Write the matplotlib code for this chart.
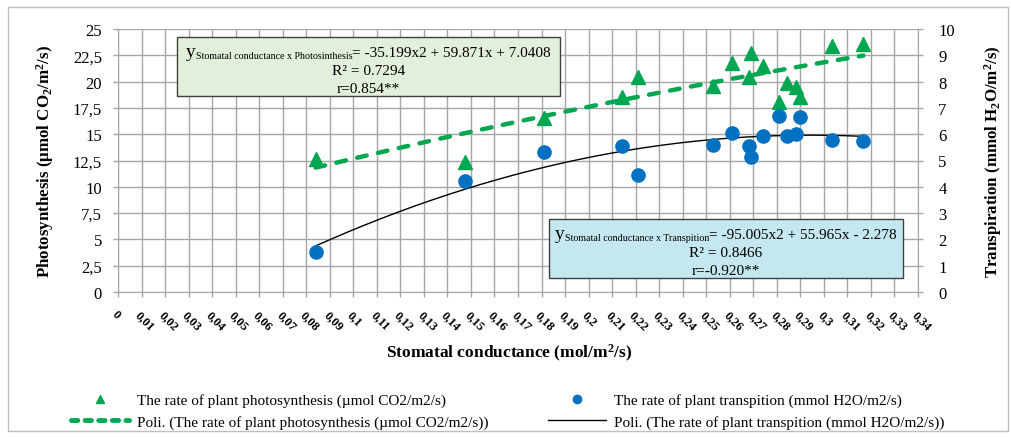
import matplotlib
matplotlib.use('Agg')
import matplotlib.pyplot as plt
from matplotlib.patches import Rectangle
from matplotlib.lines import Line2D
import numpy as np

plt.rcParams['font.family'] = ['Liberation Serif', 'DejaVu Serif']
plt.rcParams['mathtext.fontset'] = 'custom'
plt.rcParams['mathtext.rm'] = 'Liberation Serif'
plt.rcParams['mathtext.it'] = 'Liberation Serif:italic'
plt.rcParams['mathtext.bf'] = 'Liberation Serif:bold'

# stomatal conductance (mol/m2/s)
conductance = [0.084, 0.1475, 0.181, 0.214, 0.221, 0.253, 0.261, 0.268,
               0.269, 0.274, 0.281, 0.2845, 0.288, 0.290, 0.3036, 0.3168]
# photosynthesis (umol CO2/m2/s)
photosynthesis = [12.6, 12.4, 16.5, 18.5, 20.4, 19.6, 21.8, 20.4,
                  22.7, 21.5, 18.1, 19.9, 19.5, 18.5, 23.4, 23.6]
# transpiration (mmol H2O/m2/s)
transpiration = [1.51, 4.23, 5.31, 5.54, 4.45, 5.59, 6.05, 5.54,
                 5.15, 5.94, 6.70, 5.94, 6.01, 6.64, 5.79, 5.75]

# trend line coefficients given on the chart
coef_photo = [-35.199, 59.871, 7.0408]
coef_transp = [-95.005, 55.965, -2.278]

x_ticks = [round(i * 0.01, 2) for i in range(35)]
x_tick_labels = [('%g' % v).replace('.', ',') for v in x_ticks]
y1_ticks = [i * 2.5 for i in range(11)]
y1_tick_labels = [('%g' % v).replace('.', ',') for v in y1_ticks]
y2_ticks = list(range(11))

green = '#00A650'
blue = '#0070C0'
grid_c = '#a6a6a6'

W, H = 1012, 439
fig = plt.figure(figsize=(W / 100, H / 100), dpi=100)
ax = fig.add_axes([118 / W, 1 - 293 / H, 800 / W, 263 / H])
ax2 = ax.twinx()

ax.set_xlim(0, 0.34)
ax.set_ylim(0, 25)
ax2.set_ylim(0, 10)

ax.set_xticks(x_ticks)
ax.set_xticklabels(x_tick_labels, rotation=-45, ha='left', va='top',
                   rotation_mode='anchor', fontweight='bold', fontsize=9)
ax.set_yticks(y1_ticks)
ax.set_yticklabels(y1_tick_labels, fontsize=12)
ax2.set_yticks(y2_ticks)
ax2.set_yticklabels([str(v) for v in y2_ticks], fontsize=12)

ax.grid(True, color=grid_c, lw=1)
for a in (ax, ax2):
    for s in a.spines.values():
        s.set_visible(False)
    a.tick_params(length=3.5, color=grid_c, width=1)
ax.tick_params(axis='y', pad=8)
ax.tick_params(axis='x', pad=8)
ax2.tick_params(axis='y', pad=11)
ax.spines['left'].set_visible(True)
ax.spines['left'].set_color(grid_c)
ax.spines['bottom'].set_visible(True)
ax.spines['bottom'].set_color(grid_c)
ax2.spines['right'].set_visible(True)
ax2.spines['right'].set_color(grid_c)
ax.set_axisbelow(True)

xs = np.linspace(min(conductance), max(conductance), 200)
ax.plot(xs, np.polyval(coef_photo, xs), color=green, lw=3.2,
        dashes=(2.2, 2.6), dash_capstyle='round', zorder=3)
ax2.plot(xs, np.polyval(coef_transp, xs), color='black', lw=1, zorder=3)
ax.plot(conductance, photosynthesis, ls='none', marker='^', ms=10.5,
        color=green, zorder=4)
ax2.plot(conductance, transpiration, ls='none', marker='o', ms=9.5,
         color=blue, zorder=4)

ax.set_ylabel(r'Photosynthesis (µmol CO$_\mathbf{2}$/m$^\mathbf{2}$/s)',
              fontsize=12.2, fontweight='bold', labelpad=12)
ax2.set_ylabel(r'Transpiration (mmol H$_\mathbf{2}$O/m$^\mathbf{2}$/s)',
               fontsize=12.2, fontweight='bold', labelpad=20)
fig.text(509 / W, 1 - 353 / H, r'Stomatal conductance (mol/m$^\mathbf{2}$/s)',
         fontsize=12.5, fontweight='bold', ha='center', va='center')

renderer = fig.canvas.get_renderer()


def eq_box(x0, y0, x1, y1, fc, sub, eq, r2, r):
    fig.patches.append(Rectangle((x0 / W, 1 - y1 / H), (x1 - x0) / W,
                                 (y1 - y0) / H, transform=fig.transFigure,
                                 fc=fc, ec='#404040', lw=1, zorder=5))
    cx = (x0 + x1) / 2
    # first line: big y, small subscript, then the equation
    parts = [('y', 14, 0), (sub, 7.2, 2), (eq, 11, 0)]
    base = y0 + 19
    texts = []
    for s, fs, dy in parts:
        texts.append(fig.text(0, 1 - (base + dy) / H, s, fontsize=fs,
                              ha='left', va='baseline', zorder=6))
    widths = [t.get_window_extent(renderer).width for t in texts]
    x = cx - sum(widths) / 2
    for t, w in zip(texts, widths):
        t.set_x(x / W)
        x += w
    fig.text(cx / W, 1 - (y0 + 37) / H, r2, fontsize=11, ha='center',
             va='baseline', zorder=6)
    fig.text(cx / W, 1 - (y0 + 55) / H, r, fontsize=11, ha='center',
             va='baseline', zorder=6)


eq_box(177, 38, 560, 97, '#E2EFDA', 'Stomatal conductance x Photosinthesis',
       '= -35.199x2 + 59.871x + 7.0408', 'R² = 0.7294', 'r=0.854**')
eq_box(549, 220, 903, 279, '#C5E8F0', 'Stomatal conductance x Transpition',
       '= -95.005x2 + 55.965x - 2.278', 'R² = 0.8466', 'r=-0.920**')

# outer chart border
fig.patches.append(Rectangle((8 / W, 1 - 432 / H), 1000 / W, 424 / H,
                             transform=fig.transFigure, fill=False,
                             ec='#bfbfbf', lw=1))

leg_opts = dict(loc='center left', frameon=False, fontsize=11,
                handlelength=3.8, handletextpad=0.5, labelspacing=0.48,
                borderpad=0, borderaxespad=0)
fig.legend([Line2D([], [], ls='none', marker='^', ms=6, color=green),
            Line2D([], [], color=green, lw=3.5, dashes=(1.3, 1.5),
                   dash_capstyle='round')],
           ['The rate of plant photosynthesis (µmol CO2/m2/s)',
            'Poli. (The rate of plant photosynthesis (µmol CO2/m2/s))'],
           bbox_to_anchor=(71 / W, 1 - 412 / H), **leg_opts)
fig.legend([Line2D([], [], ls='none', marker='o', ms=6, color=blue),
            Line2D([], [], color='black', lw=1)],
           ['The rate of plant transpition (mmol H2O/m2/s)',
            'Poli. (The rate of plant transpition (mmol H2O/m2/s))'],
           bbox_to_anchor=(548 / W, 1 - 412 / H), **leg_opts)

fig.savefig('out.png', dpi=100)
